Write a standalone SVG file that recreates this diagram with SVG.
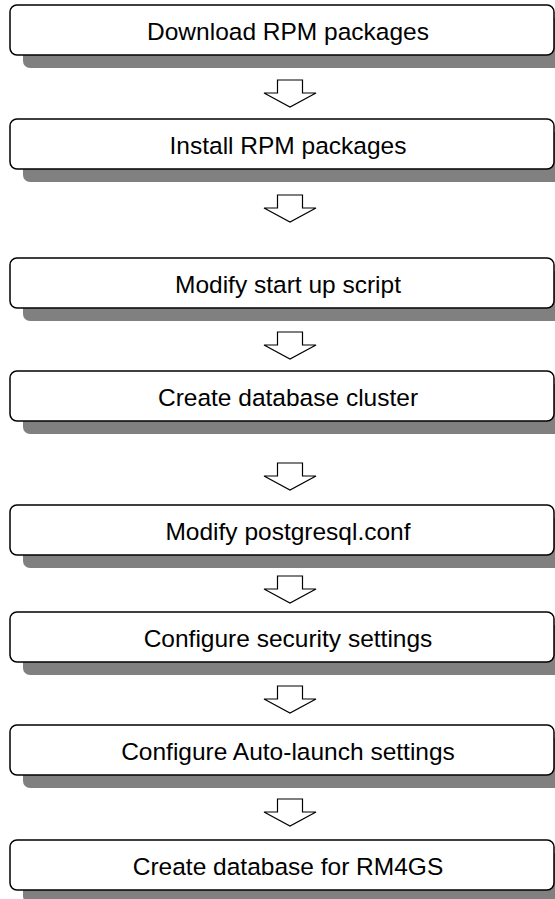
<svg xmlns="http://www.w3.org/2000/svg" width="555" height="899" viewBox="0 0 555 899">
<style>
.sh{fill:#808080}
.bx{fill:#fff;stroke:#000;stroke-width:1.5}
.t{font-family:"Liberation Sans",Arial,sans-serif;font-size:24.5px;fill:#000;text-anchor:middle}
.ar{fill:#fff;stroke:#000;stroke-width:1.2;stroke-linejoin:miter}
</style>
<defs>
<path id="arr" d="M-12.5,0 H12.5 V13 H26 L0,27 L-26,13 H-12.5 Z"/>
</defs>
<rect width="555" height="899" fill="#fff"/>
<g id="connectors">
<use href="#arr" class="ar" x="290" y="80"/>
<use href="#arr" class="ar" x="290" y="195"/>
<use href="#arr" class="ar" x="290" y="332"/>
<use href="#arr" class="ar" x="290" y="463"/>
<use href="#arr" class="ar" x="290" y="576"/>
<use href="#arr" class="ar" x="290" y="686"/>
<use href="#arr" class="ar" x="290" y="799"/>
</g>
<g id="n1"><rect class="sh" x="23" y="18" width="544" height="50" rx="7"/><rect class="bx" x="10" y="5" width="544" height="50" rx="7"/><text class="t" x="288" y="40">Download RPM packages</text></g>
<g id="n2"><rect class="sh" x="23" y="132" width="544" height="50" rx="7"/><rect class="bx" x="10" y="119" width="544" height="50" rx="7"/><text class="t" x="288" y="154">Install RPM packages</text></g>
<g id="n3"><rect class="sh" x="23" y="271" width="544" height="50" rx="7"/><rect class="bx" x="10" y="258" width="544" height="50" rx="7"/><text class="t" x="288" y="293">Modify start up script</text></g>
<g id="n4"><rect class="sh" x="23" y="384" width="544" height="50" rx="7"/><rect class="bx" x="10" y="371" width="544" height="50" rx="7"/><text class="t" x="288" y="406">Create database cluster</text></g>
<g id="n5"><rect class="sh" x="23" y="518" width="544" height="50" rx="7"/><rect class="bx" x="10" y="505" width="544" height="50" rx="7"/><text class="t" x="288" y="540">Modify postgresql.conf</text></g>
<g id="n6"><rect class="sh" x="23" y="625" width="544" height="50" rx="7"/><rect class="bx" x="10" y="612" width="544" height="50" rx="7"/><text class="t" x="288" y="647">Configure security settings</text></g>
<g id="n7"><rect class="sh" x="23" y="738" width="544" height="50" rx="7"/><rect class="bx" x="10" y="725" width="544" height="50" rx="7"/><text class="t" x="288" y="760">Configure Auto-launch settings</text></g>
<g id="n8"><rect class="sh" x="23" y="853" width="544" height="50" rx="7"/><rect class="bx" x="10" y="840" width="544" height="50" rx="7"/><text class="t" x="288" y="875">Create database for RM4GS</text></g>
</svg>
